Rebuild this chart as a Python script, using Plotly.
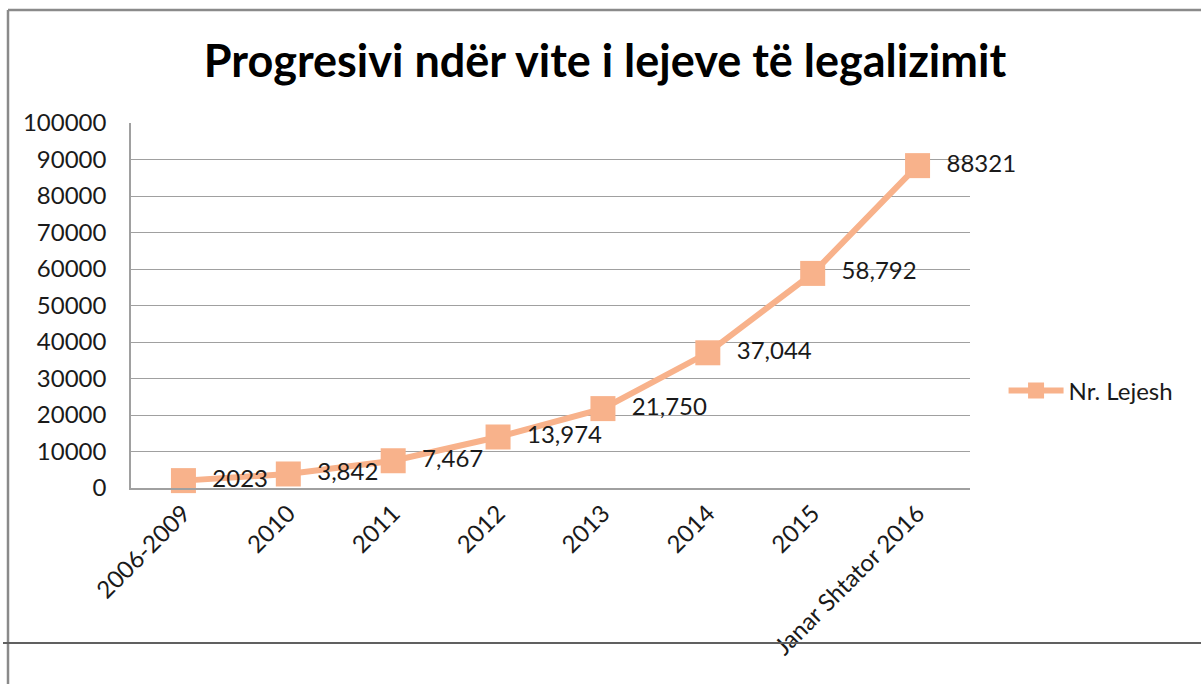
import plotly.graph_objects as go

categories = ["2006-2009", "2010", "2011", "2012", "2013", "2014", "2015", "Janar Shtator 2016"]
values = [2023, 3842, 7467, 13974, 21750, 37044, 58792, 88321]
labels = ["2023", "3,842", "7,467", "13,974", "21,750", "37,044", "58,792", "88321"]
y_ticks = list(range(0, 100001, 10000))

FONT = "Lato, 'Open Sans', sans-serif"
LINE_COLOR = "#F8B28B"

fig = go.Figure()
fig.add_trace(go.Scatter(
    x=categories, y=values, name="Nr. Lejesh",
    mode="lines+markers+text",
    line=dict(color=LINE_COLOR, width=6),
    marker=dict(symbol="square", size=25, color=LINE_COLOR),
    text=labels, texttemplate="  %{text}", textposition="middle right",
    textfont=dict(family=FONT, size=24, color="#1a1a1a"),
    cliponaxis=False,
))

fig.update_layout(
    width=1201, height=684,
    margin=dict(l=131, r=231, t=123, b=196),
    paper_bgcolor="white", plot_bgcolor="white",
    title=dict(text="<b>Progresivi ndër vite i lejeve të legalizimit</b>",
               x=(605 - 131) / 839, xanchor="center", y=0.91, yanchor="middle",
               xref="paper",
               font=dict(family=FONT, size=45, color="black")),
    font=dict(family=FONT, size=24, color="#1a1a1a"),
    showlegend=True,
    legend=dict(x=1.04, xanchor="left", y=0.266, yanchor="middle",
                itemwidth=55,
                font=dict(family=FONT, size=24, color="#1a1a1a"),
                bgcolor="rgba(0,0,0,0)"),
    xaxis=dict(type="category", range=[-0.5, 7.5], tickangle=-45,
               showline=True, linecolor="#A0A0A0", linewidth=1.5,
               showgrid=False, ticks="", tickfont=dict(family=FONT, size=24)),
    yaxis=dict(range=[0, 100000], tickvals=y_ticks, ticktext=[str(v) for v in y_ticks],
               showline=True, linecolor="#A0A0A0", linewidth=1.5,
               showgrid=True, gridcolor="#A0A0A0", gridwidth=1.2,
               zeroline=False, ticks="", ticklabelstandoff=18,
               tickfont=dict(family=FONT, size=24)),
)

# outer frame lines
fig.add_shape(type="line", xref="paper", yref="paper",
              x0=(8 - 131) / 839, x1=(1201 - 131) / 839,
              y0=(488 - 10) / 365, y1=(488 - 10) / 365,
              line=dict(color="#8a8a8a", width=2.5))
fig.add_shape(type="line", xref="paper", yref="paper",
              x0=(8 - 131) / 839, x1=(8 - 131) / 839,
              y0=(488 - 10) / 365, y1=(488 - 690) / 365,
              line=dict(color="#8a8a8a", width=2.5))
fig.add_shape(type="line", xref="paper", yref="paper",
              x0=(3 - 131) / 839, x1=(1201 - 131) / 839,
              y0=(488 - 643) / 365, y1=(488 - 643) / 365,
              line=dict(color="#606060", width=2))

fig.write_html("out.html", config={"displayModeBar": False},
               post_script="document.body.style.margin='0';")
